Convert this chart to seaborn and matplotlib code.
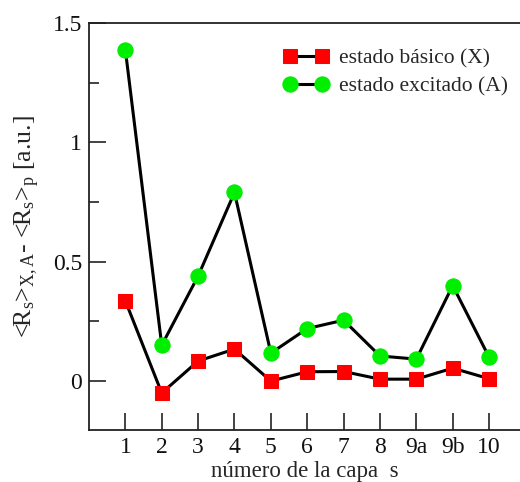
import matplotlib
matplotlib.use("Agg")
import matplotlib.pyplot as plt
import seaborn as sns
import pandas as pd
import numpy as np

categories = ["1", "2", "3", "4", "5", "6", "7", "8", "9a", "9b", "10"]
basico = [0.336, -0.05, 0.084, 0.134, 0.0, 0.039, 0.040, 0.008, 0.008, 0.054, 0.010]
excitado = [1.387, 0.15, 0.44, 0.79, 0.117, 0.22, 0.255, 0.105, 0.092, 0.40, 0.10]
label_basico = "estado básico (X)"
label_excitado = "estado excitado (A)"

sns.set_style("ticks")
plt.rcParams["font.family"] = ["Liberation Serif", "DejaVu Serif"]
plt.rcParams["mathtext.fontset"] = "custom"
plt.rcParams["mathtext.rm"] = "Liberation Serif"
plt.rcParams["mathtext.it"] = "Liberation Serif"

pos = np.arange(1, len(categories) + 1)
df = pd.DataFrame({"pos": pos, "basico": basico, "excitado": excitado})

fig = plt.figure(figsize=(5.2, 4.82), dpi=100)
ax = fig.add_axes([89 / 520, 1 - 430 / 482, 1 - 89 / 520, (430 - 23) / 482])

sns.lineplot(data=df, x="pos", y="basico", ax=ax, color="black", linewidth=2.2,
             marker="s", markersize=10, markerfacecolor="#ff0000",
             markeredgecolor="#ff0000", label=label_basico)
sns.lineplot(data=df, x="pos", y="excitado", ax=ax, color="black", linewidth=2.2,
             marker="o", markersize=11, markerfacecolor="#00ee00",
             markeredgecolor="#00ee00", label=label_excitado)

ax.set_xlim(0, 11.85)
ax.set_ylim(-0.205, 1.5)
ax.set_xticks(pos)
ax.set_xticklabels(categories)
ax.set_yticks([0, 0.5, 1, 1.5])
ax.set_yticklabels(["0", "0.5", "1", "1.5"])
ax.set_yticks(np.arange(-0.0, 1.5, 0.25), minor=True)
ax.tick_params(axis="both", which="major", direction="in", length=12, width=1.2,
               labelsize=17, pad=5, colors="#222222", labelcolor="#111111")
ax.tick_params(axis="y", which="minor", direction="in", length=7, width=1.2, colors="#222222")
ax.tick_params(axis="x", which="minor", length=0)
ax.spines["right"].set_visible(False)
for s in ["left", "top", "bottom"]:
    ax.spines[s].set_linewidth(1.3)
    ax.spines[s].set_color("#222222")

ax.set_xlabel("número de la capa  s", fontsize=16.5, labelpad=2)
ax.set_ylabel(r"<R$_\mathregular{s}$>$_\mathregular{X,A}$- <R$_\mathregular{s}$>$_\mathregular{p}$ [a.u.]",
              fontsize=18.5)
ax.yaxis.set_label_coords(-0.109, 0.5)

leg = ax.legend(loc="upper left", bbox_to_anchor=(0.545, 0.90), bbox_transform=fig.transFigure,
                frameon=False, fontsize=15.5, handlelength=2.1, handletextpad=0.5,
                labelspacing=0.4, borderpad=0, borderaxespad=0, numpoints=2)

fig.savefig("out.png", dpi=100)
